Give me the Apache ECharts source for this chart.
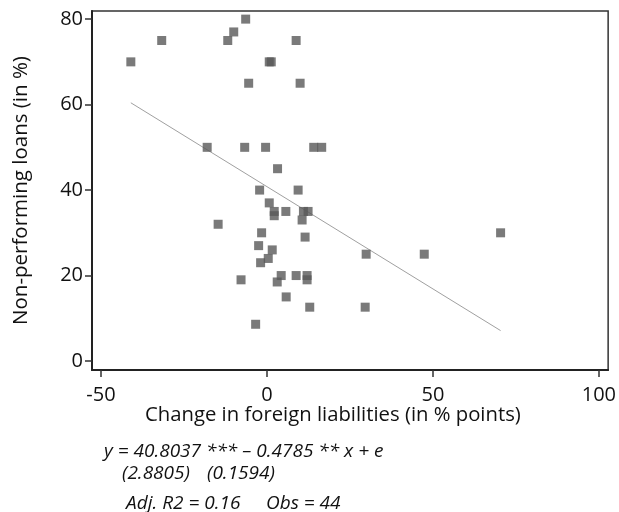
<!DOCTYPE html>
<html>
<head>
<meta charset="utf-8">
<script src="https://cdn.jsdelivr.net/npm/echarts@6/dist/echarts.min.js"></script>
<style>html,body{margin:0;padding:0;background:#fff;}#c{width:619px;height:512px;}</style>
</head>
<body>
<div id="c"></div>
<script>
// Data
var xVals = [-41.0,-31.7,-18.0,-14.7,-11.8,-10.0,-7.8,-6.7,-6.4,-5.5,-3.4,-2.5,-2.2,-1.9,-1.6,-0.4,0.4,0.7,0.7,1.3,1.6,2.2,2.2,3.1,3.2,4.3,5.7,5.8,8.8,8.8,9.4,10.0,10.6,11.0,11.5,12.1,12.1,12.4,12.9,14.1,16.5,29.6,29.9,47.4,70.4];
var yVals = [70,75,50,32,75,77,19,50,80,65,8.6,27,40,23,30,50,24,37,70,70,26,35,34,18.5,45,20,35,15,75,20,40,65,33,35,29,20,19,35,12.6,50,50,12.6,25,25,30];
var xTicks = [-50, 0, 50, 100];
var yTicks = [0, 20, 40, 60, 80];
var intercept = 40.8037;
var slope = -0.4785;
var eqLine1 = "y = 40.8037 *** \u2013 0.4785 ** x + e";
var eqLine2a = "(2.8805)";
var eqLine2b = "(0.1594)";
var eqLine3a = "Adj. R2 = 0.16";
var eqLine3b = "Obs = 44";
var xTitle = "Change in foreign liabilities (in % points)";
var yTitle = "Non-performing loans (in %)";

var pts = xVals.map(function(x,i){return [x, yVals[i]];});
var xmin = Math.min.apply(null, xVals), xmax = Math.max.apply(null, xVals);
var fit = [[xmin, intercept + slope*xmin],[xmax, intercept + slope*xmax]];

var EQF = 'italic 19px "Open Sans"';
var chart = echarts.init(document.getElementById('c'), null, {renderer:'canvas'});
chart.setOption({
  animation:false,
  backgroundColor:'#fff',
  textStyle:{fontFamily:'Open Sans'},
  grid:{left:92, right:3, top:11, bottom:142, show:true, borderColor:'#333', borderWidth:1.5, backgroundColor:'#fff'},
  xAxis:{
    type:'value', min:-52.7, max:102.8,
    splitLine:{show:false},
    axisLine:{show:true, onZero:false, lineStyle:{color:'#222', width:2}},
    axisTick:{show:true, customValues:xTicks, length:7, lineStyle:{color:'#333', width:1.5}},
    axisLabel:{customValues:xTicks, color:'#111', fontSize:20, fontFamily:'Open Sans', margin:15}
  },
  yAxis:{
    type:'value', min:-2.1, max:81.9,
    splitLine:{show:false},
    axisLine:{show:true, onZero:false, lineStyle:{color:'#222', width:2}},
    axisTick:{show:true, customValues:yTicks, length:7, lineStyle:{color:'#333', width:1.5}},
    axisLabel:{customValues:yTicks, color:'#111', fontSize:20, fontFamily:'Open Sans', margin:9},
    name:yTitle, nameLocation:'middle', nameGap:60, nameRotate:90,
    nameTextStyle:{color:'#111', fontSize:20.5, fontFamily:'Open Sans'}
  },
  series:[
    {type:'line', data:fit, showSymbol:false, symbol:'none', silent:true,
     lineStyle:{color:'#a0a0a0', width:1}, z:1},
    {type:'scatter', data:pts, symbol:'rect', symbolSize:9,
     itemStyle:{color:'#595959'}, z:2}
  ],
  graphic:[
    {type:'text', left:145, top:405, style:{text:xTitle, font:'20.3px "Open Sans"', fill:'#111'}},
    {type:'text', left:104, top:442, style:{text:eqLine1, font:EQF, fill:'#111'}},
    {type:'text', left:122, top:464, style:{text:eqLine2a, font:EQF, fill:'#111'}},
    {type:'text', left:207, top:464, style:{text:eqLine2b, font:EQF, fill:'#111'}},
    {type:'text', left:126, top:494, style:{text:eqLine3a, font:EQF, fill:'#111'}},
    {type:'text', left:266, top:494, style:{text:eqLine3b, font:EQF, fill:'#111'}}
  ]
});
</script>
</body>
</html>
